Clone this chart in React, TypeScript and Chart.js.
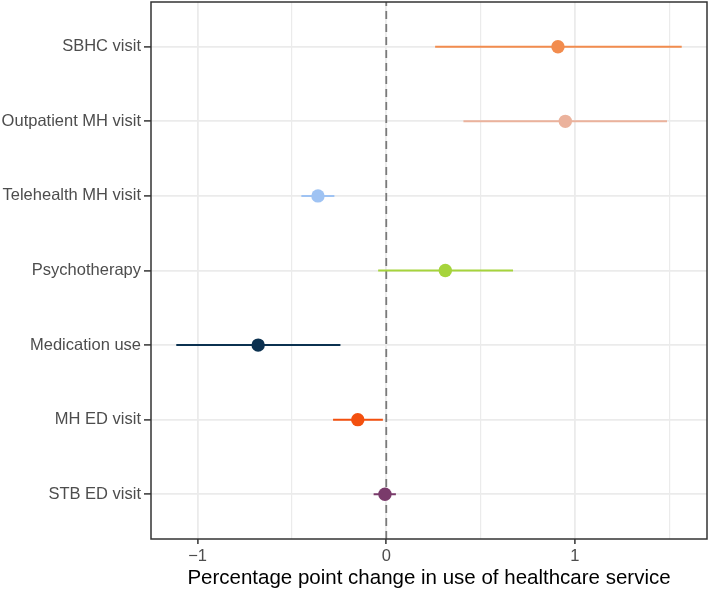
import React, { useEffect, useRef } from "react";
import { Chart, registerables } from "chart.js";

Chart.register(...registerables);

// Categories, top to bottom
const categories = [
  "SBHC visit",
  "Outpatient MH visit",
  "Telehealth MH visit",
  "Psychotherapy",
  "Medication use",
  "MH ED visit",
  "STB ED visit",
];
const estimates = [0.91, 0.949, -0.362, 0.313, -0.679, -0.151, -0.007];
const lowerCI = [0.259, 0.409, -0.45, -0.043, -1.113, -0.282, -0.067];
const upperCI = [1.566, 1.488, -0.275, 0.672, -0.243, -0.018, 0.051];
const colors = ["#F28C4E", "#EBB29C", "#9FC3F3", "#A6D43C", "#0B3150", "#F3500F", "#7A3B6B"];
const xGridTicks = [-1, -0.5, 0, 0.5, 1, 1.5];
const xMin = -1.247;
const xMax = 1.7;
const xTitle = "Percentage point change in use of healthcare service";

const FONT = "'Liberation Sans', Arial, Helvetica, sans-serif";

export default function App() {
  const ref = useRef<HTMLCanvasElement | null>(null);

  useEffect(() => {
    if (!ref.current) return;
    const n = categories.length;
    const pos = categories.map((_, i) => n - i);

    const datasets: any[] = [];
    datasets.push({
      type: "line",
      data: [
        { x: 0, y: 0.4 },
        { x: 0, y: n + 0.6 },
      ],
      borderColor: "#7A7A7A",
      borderWidth: 1.8,
      borderDash: [8, 5],
      pointRadius: 0,
      order: 3,
    });
    categories.forEach((_, i) => {
      datasets.push({
        type: "line",
        data: [
          { x: lowerCI[i], y: pos[i] },
          { x: upperCI[i], y: pos[i] },
        ],
        borderColor: colors[i],
        borderWidth: 2,
        pointRadius: 0,
        order: 2,
      });
    });
    datasets.push({
      type: "scatter",
      data: categories.map((_, i) => ({ x: estimates[i], y: pos[i] })),
      backgroundColor: colors,
      borderColor: colors,
      borderWidth: 0,
      pointRadius: 6.7,
      order: 1,
    });

    const panelBorder = {
      id: "panelBorder",
      afterDatasetsDraw(chart: any) {
        const { ctx, chartArea } = chart;
        ctx.save();
        ctx.strokeStyle = "#333333";
        ctx.lineWidth = 1.5;
        ctx.strokeRect(
          chartArea.left,
          chartArea.top,
          chartArea.right - chartArea.left,
          chartArea.bottom - chartArea.top
        );
        ctx.restore();
      },
    };

    const chart = new Chart(ref.current, {
      type: "scatter",
      data: { datasets },
      plugins: [panelBorder],
      options: {
        animation: false,
        responsive: false,
        devicePixelRatio: 1,
        layout: { autoPadding: false, padding: { top: 2, right: 2, left: 0, bottom: 0 } },
        plugins: {
          legend: { display: false },
          tooltip: { enabled: false },
        },
        scales: {
          x: {
            type: "linear",
            min: xMin,
            max: xMax,
            afterBuildTicks: (scale: any) => {
              scale.ticks = xGridTicks.map((v) => ({ value: v }));
            },
            afterFit: (scale: any) => {
              scale.height = 52;
              scale.paddingLeft = 0;
              scale.paddingRight = 0;
            },
            border: { display: false },
            grid: {
              color: "#EBEBEB",
              lineWidth: (ctx: any) =>
                Number.isInteger(ctx.tick?.value) ? 1.8 : 1.2,
              tickColor: (ctx: any) =>
                Number.isInteger(ctx.tick?.value) ? "#333333" : "rgba(0,0,0,0)",
              tickLength: 5,
              tickWidth: 1.5,
            },
            ticks: {
              autoSkip: false,
              maxRotation: 0,
              padding: 3,
              color: "#4D4D4D",
              font: { family: FONT, size: 16.5 },
              callback: (v: any) => {
                const num = Number(v);
                if (!Number.isInteger(num)) return "";
                return num < 0 ? "\u2212" + Math.abs(num) : String(num);
              },
            },
            title: {
              display: true,
              text: xTitle,
              color: "#000000",
              font: { family: FONT, size: 20.5 },
              padding: { top: 0, bottom: 0 },
            },
          },
          y: {
            type: "linear",
            min: 0.4,
            max: n + 0.6,
            afterBuildTicks: (scale: any) => {
              scale.ticks = pos.map((v) => ({ value: v }));
            },
            afterFit: (scale: any) => {
              scale.width = 151;
              scale.paddingTop = 0;
              scale.paddingBottom = 0;
            },
            border: { display: false },
            grid: {
              color: "#EBEBEB",
              lineWidth: 1.8,
              tickColor: "#333333",
              tickLength: 7,
              tickWidth: 1.5,
            },
            ticks: {
              autoSkip: false,
              padding: 3,
              color: "#4D4D4D",
              font: { family: FONT, size: 16.5 },
              callback: (v: any) => {
                const idx = n - Number(v);
                return categories[idx] ?? "";
              },
            },
          },
        },
      },
    });

    return () => chart.destroy();
  }, []);

  return (
    <div style={{ position: "absolute", left: 0, top: 0, width: 709, height: 591, background: "#fff" }}>
      <canvas ref={ref} width={709} height={591} />
    </div>
  );
}
